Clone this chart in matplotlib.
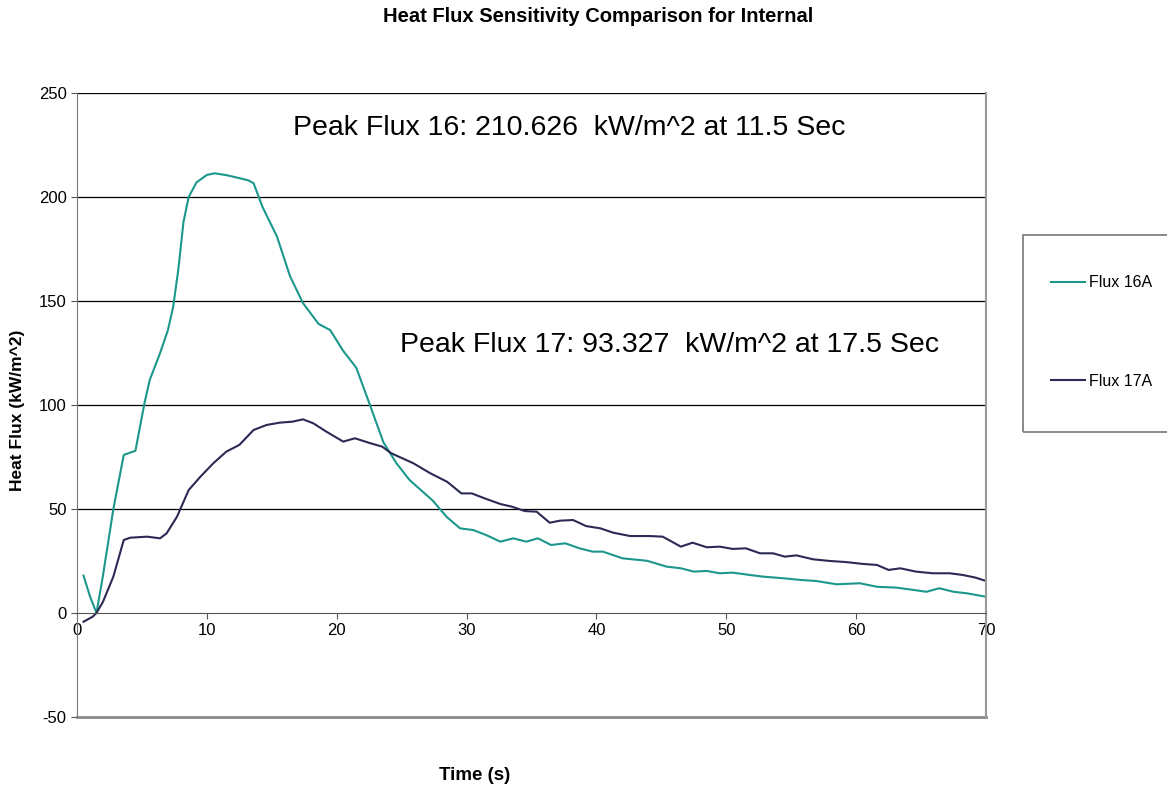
import matplotlib.pyplot as plt
from matplotlib.patches import Rectangle

plt.rcParams['font.family'] = ['Liberation Sans', 'DejaVu Sans']
plt.rcParams['axes.unicode_minus'] = False

# Flux 16A (tempo em s, fluxo em kW/m^2)
t16 = [0.5, 1.0, 1.5, 2.0, 2.8, 3.6, 4.5, 5.2, 5.6, 6.4, 7.0, 7.4, 7.8, 8.2, 8.6,
       9.2, 10.0, 10.6, 11.5, 12.0, 13.2, 13.6, 14.3, 15.4, 16.4, 17.4, 18.6, 19.5,
       20.5, 21.5, 22.5, 23.6, 24.6, 25.6, 26.5, 27.4, 28.5, 29.5, 30.5, 31.5, 32.6,
       33.6, 34.6, 35.5, 36.5, 37.6, 38.7, 39.7, 40.5, 42.0, 43.9, 45.4, 46.5, 47.5,
       48.5, 49.5, 50.5, 51.8, 52.8, 54.4, 55.7, 56.9, 58.5, 60.3, 61.6, 63.1, 64.4,
       65.4, 66.4, 67.5, 68.5, 70.0]
f16 = [18, 8, 0, 18, 50, 76, 78, 101, 112, 125, 136, 147, 165, 188, 200,
       207, 210.6, 211.4, 210.5, 209.8, 208, 206.6, 195, 181, 162, 149, 139, 136,
       126, 118, 101, 82, 72, 64, 59, 54, 46, 40.7, 39.9, 37.5, 34.3,
       35.9, 34.3, 35.9, 32.7, 33.5, 31.1, 29.5, 29.5, 26.3, 25.1, 22.3, 21.5, 19.9,
       20.2, 19.1, 19.4, 18.3, 17.5, 16.7, 15.9, 15.4, 13.8, 14.3, 12.6, 12.2, 11.1,
       10.2, 11.9, 10.2, 9.5, 7.8]

# Flux 17A
t17 = [0.5, 1.2, 1.5, 2.0, 2.8, 3.6, 4.1, 5.4, 6.4, 6.9, 7.7, 8.6, 9.5, 10.5, 11.5,
       12.5, 13.6, 14.6, 15.6, 16.6, 17.4, 18.2, 19.2, 20.5, 21.4, 22.6, 23.5, 24.2,
       25.9, 27.2, 28.5, 29.6, 30.4, 31.4, 32.6, 33.5, 34.5, 35.4, 36.4, 37.2, 38.2,
       39.2, 40.3, 41.3, 42.6, 44.1, 45.1, 45.6, 46.5, 47.4, 48.5, 49.5, 50.5, 51.5,
       52.6, 53.6, 54.5, 55.4, 56.7, 58.0, 59.2, 60.5, 61.6, 62.5, 63.4, 64.6, 65.9,
       67.2, 68.2, 69.2, 70.0]
f17 = [-4.2, -1.8, 0, 5.4, 17.5, 35.1, 36.2, 36.7, 35.9, 38.3, 46.3, 59.1, 65.5, 72, 77.6,
       80.8, 88, 90.4, 91.5, 92, 93.1, 91.2, 87.2, 82.4, 84, 81.6, 80, 76.8,
       72, 67.2, 63.1, 57.5, 57.5, 55.1, 52.4, 51.1, 49, 48.7, 43.4, 44.4, 44.7,
       41.8, 40.7, 38.6, 37, 37, 36.7, 35, 31.9, 33.8, 31.6, 31.9, 30.8, 31.1,
       28.7, 28.7, 27.1, 27.7, 25.8, 25, 24.5, 23.6, 23.1, 20.7, 21.5, 19.9, 19.1,
       19.1, 18.3, 17, 15.4]

teal = '#1b978b'
navy = '#2a2a55'

fig = plt.figure(figsize=(11.67, 7.86), dpi=100)
ax = fig.add_axes([77 / 1167, 1 - 717 / 786, (986 - 77) / 1167, (717 - 93) / 786])

l16, = ax.plot(t16, f16, color=teal, lw=1.5, label='Flux 16A', solid_joinstyle='round')
l17, = ax.plot(t17, f17, color=navy, lw=1.5, label='Flux 17A', solid_joinstyle='round')

ax.set_xlim(0, 70)
ax.set_ylim(-50, 250)
ax.set_xticks(range(0, 71, 10))
ax.set_yticks(range(-50, 251, 50))
for yv in [50, 100, 150, 200, 250]:
    ax.axhline(yv, color='black', lw=0.9, zorder=0)
ax.axhline(-50, color='#888888', lw=2, clip_on=False)

ax.spines['bottom'].set_position(('data', 0))
ax.spines['bottom'].set_color('#555555')
ax.spines['left'].set_color('#777777')
ax.spines['right'].set_color('#999999')
ax.spines['right'].set_linewidth(1.5)
ax.spines['top'].set_visible(False)
ax.tick_params(axis='both', direction='out', length=4, labelsize=12, color='#555555')

ax.text(37.9, 233, 'Peak Flux 16: 210.626  kW/m^2 at 11.5 Sec', fontsize=20.5,
        ha='center', va='center')
ax.text(45.6, 129, 'Peak Flux 17: 93.327  kW/m^2 at 17.5 Sec', fontsize=20.5,
        ha='center', va='center')

fig.text(598 / 1167, 1 - 17 / 786, 'Heat Flux Sensitivity Comparison for Internal',
         fontsize=14.5, fontweight='bold', ha='center', va='center')
fig.text(475 / 1167, 1 - 775 / 786, 'Time (s)', fontsize=13.5, fontweight='bold',
         ha='center', va='center')
fig.text(18 / 1167, 1 - 410 / 786, 'Heat Flux (kW/m^2)', fontsize=12.5, fontweight='bold',
         ha='center', va='center', rotation=90)

fig.patches.append(Rectangle((1023 / 1167, 1 - 432 / 786), 160 / 1167, 197 / 786,
                             transform=fig.transFigure, fill=False,
                             edgecolor='#777777', lw=1.2))
fig.legend(handles=[l16, l17], loc='center left', frameon=False,
           bbox_to_anchor=(1037 / 1167, 1 - 332 / 786), fontsize=11.5,
           labelspacing=5.2, handlelength=2.1, handletextpad=0.25)

fig.savefig('out.png', dpi=100)
